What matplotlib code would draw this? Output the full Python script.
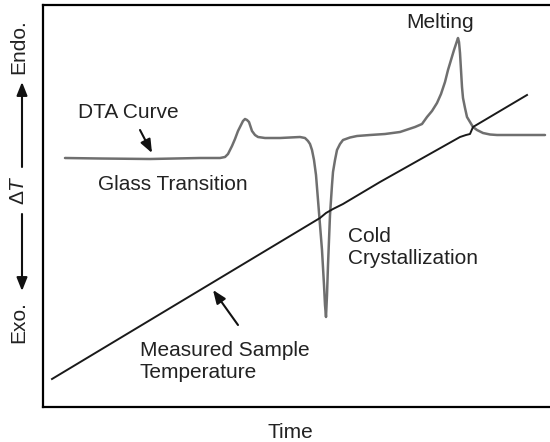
import matplotlib
matplotlib.use("Agg")
import matplotlib.pyplot as plt

plt.rcParams['font.family'] = ['Liberation Sans', 'DejaVu Sans']
plt.rcParams['mathtext.fontset'] = 'custom'
plt.rcParams['mathtext.rm'] = 'Liberation Sans'
plt.rcParams['mathtext.it'] = 'Liberation Sans:italic'

# DTA curve (time, signal) in chart units (y grows downward = exo)
dta_time = [65, 100, 150, 200, 220, 225, 228, 232, 235, 238, 240, 243, 245, 247, 249,
            252, 255, 258, 265, 280, 300, 305, 308, 310, 312, 314, 316, 318, 320, 322,
            324, 325, 326, 327, 328, 330, 332, 333, 335, 337, 340, 343, 350, 357, 370,
            385, 400, 415, 422, 427, 432, 437, 441, 445, 448, 451, 454, 456, 458, 459,
            460, 461, 462, 463, 465, 467, 470, 473, 477, 483, 490, 497, 520, 545]
dta_signal = [158, 158.5, 159, 158, 158, 157, 154, 146, 139, 131, 127, 121, 119, 120, 122,
              131, 135, 137, 138, 138, 137, 138, 141, 144, 150, 160, 175, 200, 225, 250,
              285, 305, 317, 295, 265, 215, 185, 172, 160, 150, 144, 140, 137.5, 136, 135,
              134, 132, 127, 124, 117, 111, 103, 94, 82, 70, 60, 50, 44, 38, 42,
              53, 70, 87, 98, 108, 117, 122, 127, 130, 133, 134.5, 135, 135, 135]

# Measured sample temperature line
temp_time = [52, 320, 326, 333, 343, 380, 460, 466, 470, 473, 527]
temp_signal = [379, 218, 213, 209, 204, 182, 137, 135, 134, 127, 95]

fig = plt.figure(figsize=(5.5, 4.42), dpi=100)
ax = fig.add_axes([43/550, 1-407/442, 1-43/550, (407-5)/442])
ax.set_xlim(43, 550)
ax.set_ylim(407, 5)
ax.set_xticks([])
ax.set_yticks([])
for s in ['left', 'top', 'bottom']:
    ax.spines[s].set_linewidth(1.6)
ax.spines['right'].set_visible(False)

ax.plot(dta_time, dta_signal, color='#6f6f6f', lw=1.8, solid_joinstyle='round', solid_capstyle='round')
ax.plot(temp_time, temp_signal, color='#1a1a1a', lw=1.4, solid_joinstyle='round')

fs = 15
tc = '#222222'
ax.text(78, 113, 'DTA Curve', fontsize=fs, color=tc, ha='left', va='center')
ax.text(98, 185, 'Glass Transition', fontsize=fs, color=tc, ha='left', va='center')
ax.text(140, 362, 'Measured Sample\nTemperature', fontsize=fs, color=tc, ha='left', va='center', linespacing=1.2)
ax.text(348, 248, 'Cold\nCrystallization', fontsize=fs, color=tc, ha='left', va='center', linespacing=1.2)
ax.text(440, 23, 'Melting', fontsize=fs, color=tc, ha='center', va='center')
ax.text(290, 432, 'Time', fontsize=fs, color=tc, ha='center', va='center', clip_on=False)

arr = dict(arrowstyle='-|>,head_length=0.8,head_width=0.32', color='#111111', lw=1.5, shrinkA=0, shrinkB=0)
ax.annotate('', xy=(152, 153), xytext=(140, 130), arrowprops=arr)
ax.annotate('', xy=(213, 290), xytext=(238, 325), arrowprops=arr)

# left axis label
ax.text(19, 47, 'Endo.', fontsize=fs, color=tc, rotation=90, ha='center', va='center', clip_on=False)
ax.text(19, 190, r'$\Delta T$', fontsize=fs, color=tc, rotation=90, ha='center', va='center', clip_on=False)
ax.text(19, 322, 'Exo.', fontsize=fs, color=tc, rotation=90, ha='center', va='center', clip_on=False)
ax.annotate('', xy=(22, 82), xytext=(22, 167), arrowprops=arr, annotation_clip=False)
ax.annotate('', xy=(22, 291), xytext=(22, 214), arrowprops=arr, annotation_clip=False)

fig.savefig('out.png', dpi=100)
